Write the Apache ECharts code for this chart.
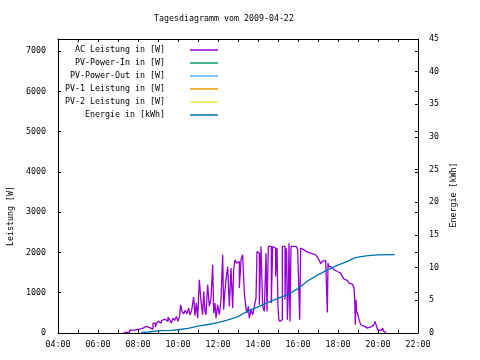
<!DOCTYPE html>
<html><head><meta charset="utf-8">
<script src="https://cdn.jsdelivr.net/npm/echarts@6/dist/echarts.min.js"></script>
<style>html,body{margin:0;padding:0;background:#fff}#c{width:480px;height:360px}</style>
</head><body><div id="c"></div>
<script>
const chartTitle = 'Tagesdiagramm vom 2009-04-22';
const seriesNames = ['AC Leistung in [W]', 'PV-Power-In in [W]', 'PV-Power-Out in [W]', 'PV-1 Leistung in [W]', 'PV-2 Leistung in [W]', 'Energie in [kWh]'];
const seriesColors = ['#9400d3', '#009e73', '#56b4e9', '#e69f00', '#f0e442', '#0072b2'];
const xTickLabels = ['04:00', '06:00', '08:00', '10:00', '12:00', '14:00', '16:00', '18:00', '20:00', '22:00'];
const leftAxisName = 'Leistung [W]';
const rightAxisName = 'Energie [kWh]';

const acTimes = ['07:17','07:35','07:50','08:05','08:10','08:15','08:25','08:35','08:45','08:52','08:55','09:00','09:05','09:10','09:15','09:20','09:25','09:30','09:35','09:40','09:45','09:50','09:55','10:00','10:05','10:08','10:12','10:17','10:22','10:27','10:32','10:36','10:41','10:47','10:51','10:55','10:59','11:04','11:09','11:14','11:17','11:21','11:24','11:29','11:34','11:39','11:44','11:47','11:51','11:54','11:59','12:04','12:09','12:14','12:17','12:21','12:24','12:29','12:34','12:39','12:44','12:47','12:51','12:56','13:01','13:04','13:09','13:14','13:19','13:24','13:27','13:31','13:34','13:39','13:44','13:49','13:54','13:57','14:01','14:04','14:09','14:14','14:19','14:24','14:27','14:31','14:37','14:40','14:44','14:49','14:53','14:57','15:00','15:02','15:05','15:09','15:13','15:18','15:21','15:24','15:26','15:28','15:31','15:33','15:36','15:39','15:48','15:55','15:59','16:02','16:05','16:08','16:13','16:18','16:23','16:28','16:38','16:43','16:53','16:58','17:03','17:08','17:13','17:18','17:23','17:26','17:28','17:30','17:33','17:38','17:43','17:48','17:53','17:58','18:08','18:13','18:18','18:23','18:28','18:33','18:38','18:43','18:48','18:50','18:52','18:54','18:56','18:59','19:02','19:05','19:08','19:13','19:20','19:27','19:33','19:37','19:42','19:47','19:51','19:55','19:57','19:59','20:05','20:10','20:14','20:17','20:21','20:25'];
const acWatts = [15,73,98,98,122,164,131,98,247,147,230,288,247,304,346,304,288,395,329,247,370,313,412,288,445,701,536,478,561,478,619,453,561,891,428,743,370,1322,784,453,1032,536,453,1198,660,867,1694,495,743,370,701,453,825,1942,577,1073,1322,1652,660,1611,619,1570,1818,1735,1776,1115,1818,1942,991,619,495,660,370,577,453,660,867,2025,1983,701,2149,660,536,1983,536,2149,2149,743,2149,2107,1404,2107,660,370,288,329,2149,2149,825,2107,1983,329,991,2231,288,2149,2149,2107,2066,2107,329,2107,2066,2025,2008,1983,1967,1942,1917,1884,1818,1719,1776,1801,1776,1818,511,1735,1652,1628,1611,1570,1528,1487,1446,1404,1338,1305,1280,1239,1214,1198,1115,867,205,825,536,478,370,288,205,164,122,147,147,180,189,230,288,329,247,81,65,98,122,40,15,0];

const energyTimes = ['08:10','08:30','09:10','09:40','10:00','10:30','11:00','11:30','12:00','12:30','13:00','13:30','14:00','14:30','15:00','15:30','16:00','16:30','17:00','17:30','18:00','18:30','18:50','19:10','19:30','20:00','20:50'];
const energyKWh = [0.1,0.15,0.35,0.4,0.5,0.7,1.05,1.3,1.6,2.0,2.5,3.4,4.0,4.7,5.3,5.9,6.8,8.0,8.9,9.7,10.4,11.0,11.5,11.7,11.85,11.95,12.0];

function toHours(s) { const p = s.split(':'); return Number(p[0]) + Number(p[1]) / 60; }
const FONT = 'DejaVu Sans Mono';
const FS = 8.3;
const black = '#000';
const TICK = -3;

const acData = acTimes.map((t, i) => [toHours(t), acWatts[i]]);
const energyData = energyTimes.map((t, i) => [toHours(t), energyKWh[i]]);

function xAxisDef(pos, labels) {
  return {
    type: 'value', min: 4, max: 22, interval: 2, position: pos,
    axisLine: { show: true, onZero: false, lineStyle: { color: black, width: 1 } },
    axisTick: { show: true, inside: false, length: TICK, lineStyle: { color: black } },
    minorTick: { show: true, splitNumber: 2, length: TICK, lineStyle: { color: black } },
    splitLine: { show: false },
    axisLabel: labels ? { show: true, margin: 8, color: black, fontFamily: FONT, fontSize: FS,
      formatter: v => xTickLabels[Math.round((v - 4) / 2)] || '' } : { show: false }
  };
}

const chart = echarts.init(document.getElementById('c'), null, { renderer: 'canvas' });
chart.setOption({
  animation: false,
  backgroundColor: '#fff',
  title: { text: chartTitle, left: 154, top: 15, padding: 0,
    textStyle: { fontFamily: FONT, fontSize: FS, fontWeight: 'normal', color: black } },
  legend: {
    orient: 'vertical', align: 'right', right: 262, top: 46, padding: 0,
    itemWidth: 28, itemHeight: 1.5, itemGap: 5, icon: 'rect', selectedMode: false,
    textStyle: { fontFamily: FONT, fontSize: FS, color: black, padding: [0, 20, 0, 0] },
    data: seriesNames
  },
  grid: { left: 58, right: 62, top: 39, bottom: 27, containLabel: false, outerBoundsMode: 'none' },
  xAxis: [xAxisDef('bottom', true), xAxisDef('top', false)],
  yAxis: [
    { type: 'value', min: 0, max: 7300, interval: 1000, position: 'left',
      axisLine: { show: true, onZero: false, lineStyle: { color: black } },
      axisTick: { show: true, inside: false, length: TICK, lineStyle: { color: black } },
      splitLine: { show: false },
      axisLabel: { margin: 12, color: black, fontFamily: FONT, fontSize: FS,
        formatter: v => (v % 1000 === 0 && v <= 7000) ? String(v) : '' },
      name: leftAxisName, nameLocation: 'middle', nameGap: 41, nameRotate: 90,
      nameTextStyle: { fontFamily: FONT, fontSize: FS, color: black, padding: [0, 60, 0, 0] } },
    { type: 'value', min: 0, max: 45, interval: 5, position: 'right',
      axisLine: { show: true, onZero: false, lineStyle: { color: black } },
      axisTick: { show: true, inside: false, length: TICK, lineStyle: { color: black } },
      splitLine: { show: false },
      axisLabel: { margin: 11, color: black, fontFamily: FONT, fontSize: FS },
      name: rightAxisName, nameLocation: 'middle', nameGap: 27, nameRotate: 90,
      nameTextStyle: { fontFamily: FONT, fontSize: FS, color: black, padding: [0, 18, 0, 0] } },
    { type: 'value', min: 0, max: 7300, interval: 1000, position: 'right',
      axisLine: { show: false },
      axisTick: { show: true, inside: false, length: TICK, lineStyle: { color: black } },
      splitLine: { show: false }, axisLabel: { show: false } }
  ],
  series: [
    { name: seriesNames[0], type: 'line', yAxisIndex: 0, data: acData, step: 'end',
      showSymbol: false, symbol: 'none', color: seriesColors[0], lineStyle: { width: 1.3, color: seriesColors[0] } },
    { name: seriesNames[1], type: 'line', yAxisIndex: 0, data: [], symbol: 'none', color: seriesColors[1], lineStyle: { width: 1.3 } },
    { name: seriesNames[2], type: 'line', yAxisIndex: 0, data: [], symbol: 'none', color: seriesColors[2], lineStyle: { width: 1.3 } },
    { name: seriesNames[3], type: 'line', yAxisIndex: 0, data: [], symbol: 'none', color: seriesColors[3], lineStyle: { width: 1.3 } },
    { name: seriesNames[4], type: 'line', yAxisIndex: 0, data: [], symbol: 'none', color: seriesColors[4], lineStyle: { width: 1.3 } },
    { name: seriesNames[5], type: 'line', yAxisIndex: 1, data: energyData,
      showSymbol: false, symbol: 'none', color: seriesColors[5], lineStyle: { width: 1.3, color: seriesColors[5] } }
  ]
});
</script></body></html>
